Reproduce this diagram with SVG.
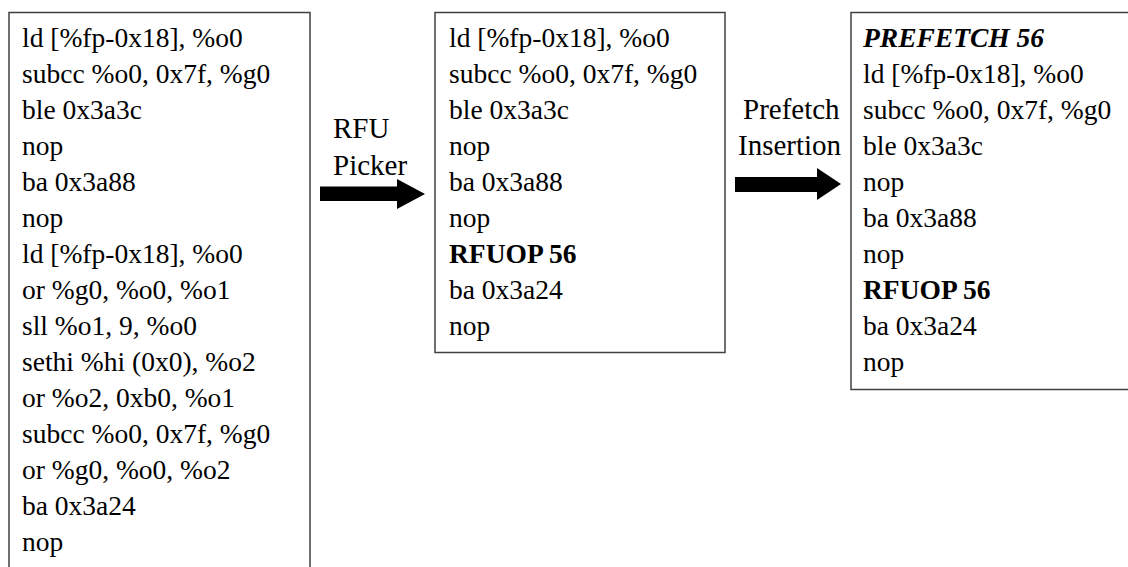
<svg xmlns="http://www.w3.org/2000/svg" width="1128" height="567" viewBox="0 0 1128 567">
  <style>
    text { font-family: 'Liberation Serif', 'Times New Roman', Times, 'DejaVu Serif', serif; fill: #000000; }
    .code { font-size: 27.5px; }
    .lbl { font-size: 29px; }
    .box { fill: #ffffff; stroke: #404040; stroke-width: 1.5; }
    .b { font-weight: bold; }
    .bi { font-weight: bold; font-style: italic; }
    .arrow { fill: #000000; }
  </style>
  <rect width="1128" height="567" fill="#ffffff"/>

  <!-- original code block -->
  <g id="original">
    <rect class="box" x="9" y="12.5" width="301" height="580"/>
    <text class="code">
      <tspan x="22" y="47">ld [%fp-0x18], %o0</tspan>
      <tspan x="22" y="83">subcc %o0, 0x7f, %g0</tspan>
      <tspan x="22" y="119">ble 0x3a3c</tspan>
      <tspan x="22" y="155">nop</tspan>
      <tspan x="22" y="191">ba 0x3a88</tspan>
      <tspan x="22" y="227">nop</tspan>
      <tspan x="22" y="263">ld [%fp-0x18], %o0</tspan>
      <tspan x="22" y="299">or %g0, %o0, %o1</tspan>
      <tspan x="22" y="335">sll %o1, 9, %o0</tspan>
      <tspan x="22" y="371">sethi %hi (0x0), %o2</tspan>
      <tspan x="22" y="407">or %o2, 0xb0, %o1</tspan>
      <tspan x="22" y="443">subcc %o0, 0x7f, %g0</tspan>
      <tspan x="22" y="479">or %g0, %o0, %o2</tspan>
      <tspan x="22" y="515">ba 0x3a24</tspan>
      <tspan x="22" y="551">nop</tspan>
    </text>
  </g>

  <!-- code after RFU picking -->
  <g id="rfu-picked">
    <rect class="box" x="435" y="12.5" width="290" height="340"/>
    <text class="code">
      <tspan x="449" y="47">ld [%fp-0x18], %o0</tspan>
      <tspan x="449" y="83">subcc %o0, 0x7f, %g0</tspan>
      <tspan x="449" y="119">ble 0x3a3c</tspan>
      <tspan x="449" y="155">nop</tspan>
      <tspan x="449" y="191">ba 0x3a88</tspan>
      <tspan x="449" y="227">nop</tspan>
      <tspan x="449" y="263" class="b">RFUOP 56</tspan>
      <tspan x="449" y="299">ba 0x3a24</tspan>
      <tspan x="449" y="335">nop</tspan>
    </text>
  </g>

  <!-- code after prefetch insertion -->
  <g id="prefetched">
    <rect class="box" x="851" y="12.5" width="290" height="377"/>
    <text class="code">
      <tspan x="863" y="47" class="bi">PREFETCH 56</tspan>
      <tspan x="863" y="83">ld [%fp-0x18], %o0</tspan>
      <tspan x="863" y="119">subcc %o0, 0x7f, %g0</tspan>
      <tspan x="863" y="155">ble 0x3a3c</tspan>
      <tspan x="863" y="191">nop</tspan>
      <tspan x="863" y="227">ba 0x3a88</tspan>
      <tspan x="863" y="263">nop</tspan>
      <tspan x="863" y="299" class="b">RFUOP 56</tspan>
      <tspan x="863" y="335">ba 0x3a24</tspan>
      <tspan x="863" y="371">nop</tspan>
    </text>
  </g>

  <!-- transformation arrows with their labels -->
  <g id="connectors">
    <g id="rfu-picker">
      <text class="lbl"><tspan x="333" y="138">RFU</tspan><tspan x="333" y="175">Picker</tspan></text>
      <polygon class="arrow" points="320,186.5 397,186.5 397,179 425,194 397,209 397,201 320,201"/>
    </g>
    <g id="prefetch-insertion">
      <text class="lbl"><tspan x="743" y="119">Prefetch</tspan><tspan x="738" y="155">Insertion</tspan></text>
      <polygon class="arrow" points="735,177 817,177 817,168 841,184 817,200 817,192 735,192"/>
    </g>
  </g>
</svg>
